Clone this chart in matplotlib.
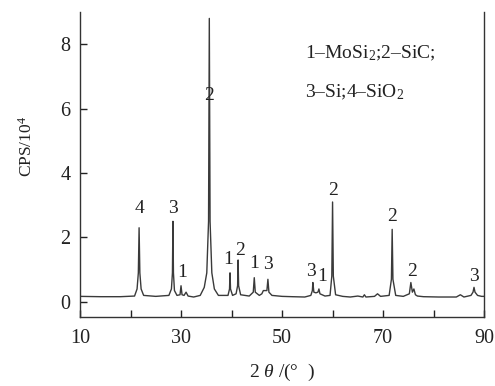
import matplotlib
matplotlib.use("Agg")
import matplotlib.pyplot as plt

# XRD trace (2theta, CPS/10^4)
two_theta = [10, 14, 18, 20.8, 21.3, 21.55, 21.7, 21.85, 22.1, 22.6, 25, 27.6, 28.1, 28.3, 28.4, 28.5, 28.7, 29.2,
             29.8, 30.0, 30.2, 30.6, 31.0, 31.4, 32.5, 33.8, 34.6, 35.1, 35.45, 35.6, 35.75, 36.1, 36.6, 37.4,
             39.3, 39.6, 39.7, 39.8, 40.2, 40.9, 41.2, 41.3, 41.4, 41.8, 43.5, 44.3, 44.5, 44.7, 45.5, 46.0,
             46.3, 47.0, 47.2, 47.4, 48.0, 50, 52, 54.5, 55.7, 56.0, 56.1, 56.3, 56.7, 57.1, 57.3, 57.5, 58.5,
             59.5, 59.85, 60.0, 60.15, 60.6, 62, 63.5, 65, 66.0, 66.3, 66.6, 68.3, 68.9, 69.5, 71.2, 71.65,
             71.8, 71.95, 72.5, 74, 75.2, 75.5, 75.8, 76.1, 76.4, 76.8, 78, 81, 84.5, 85.3, 86, 87.4, 87.8,
             88.0, 88.2, 88.7, 89.5, 90]
cps = [0.17, 0.16, 0.16, 0.18, 0.4, 0.9, 2.3, 0.9, 0.4, 0.2, 0.17, 0.2, 0.4, 0.9, 2.5, 0.9, 0.35, 0.2,
       0.22, 0.5, 0.22, 0.2, 0.3, 0.18, 0.15, 0.2, 0.45, 0.9, 2.5, 8.8, 2.5, 0.9, 0.4, 0.2,
       0.2, 0.4, 0.9, 0.4, 0.2, 0.25, 0.5, 1.3, 0.5, 0.22, 0.18, 0.3, 0.75, 0.3, 0.2, 0.25,
       0.35, 0.35, 0.7, 0.3, 0.2, 0.17, 0.16, 0.15, 0.2, 0.35, 0.6, 0.3, 0.28, 0.3, 0.4, 0.25, 0.18,
       0.2, 0.8, 3.1, 0.8, 0.22, 0.17, 0.15, 0.18, 0.15, 0.22, 0.15, 0.17, 0.25, 0.17, 0.2, 0.7,
       2.25, 0.7, 0.2, 0.17, 0.25, 0.6, 0.3, 0.4, 0.22, 0.18, 0.16, 0.15, 0.15, 0.22, 0.15, 0.2, 0.3,
       0.45, 0.3, 0.2, 0.17, 0.17]

# peak labels (phase number, 2theta, label height)
label_text = ["4", "3", "1", "2", "1", "2", "1", "3", "3", "1", "2", "2", "2", "3"]
label_x = [21.7, 28.4, 30.3, 35.5, 39.4, 41.6, 44.4, 47.3, 55.8, 58.0, 60.0, 71.8, 75.7, 88.0]
label_y = [2.9, 2.9, 0.9, 6.4, 1.3, 1.6, 1.2, 1.15, 0.95, 0.8, 3.45, 2.65, 0.95, 0.8]

legend_lines = ["1–MoSi$_2$;2–SiC;", "3–Si;4–SiO$_2$"]

x_ticks = [10, 20, 30, 40, 50, 60, 70, 80, 90]
x_labels = ["10", "", "30", "", "50", "", "70", "", "90"]
y_ticks = [0, 2, 4, 6, 8]

plt.rcParams['font.family'] = ['Liberation Serif', 'DejaVu Serif']
plt.rcParams['mathtext.fontset'] = 'custom'
plt.rcParams['mathtext.rm'] = 'Liberation Serif'
plt.rcParams['mathtext.it'] = 'Liberation Serif:italic'

fig = plt.figure(figsize=(4.95, 3.86), dpi=100)
ax = fig.add_axes([0.1616, 0.1788, 0.8164, 0.7902])
ax.plot(two_theta, cps, color="#3a3a3a", lw=1.0)

for t, x, y in zip(label_text, label_x, label_y):
    ax.text(x, y, t, ha="center", va="center", fontsize=14, color="#222222")

ax.text(54.6, 7.72, legend_lines[0], fontsize=14, ha="left", va="center", color="#222222")
ax.text(54.6, 6.5, legend_lines[1], fontsize=14, ha="left", va="center", color="#222222")

ax.set_xlim(10, 90)
ax.set_ylim(-0.47, 9.0)
ax.set_xticks(x_ticks)
ax.set_xticklabels(x_labels)
ax.set_yticks(y_ticks)
ax.tick_params(direction="in", length=5, width=1, labelsize=14.5, colors="#222222")
ax.tick_params(axis="x", pad=9)
ax.tick_params(axis="y", pad=7)
ax.spines["top"].set_visible(False)
for s in ["left", "right", "bottom"]:
    ax.spines[s].set_color("#333333")
    ax.spines[s].set_linewidth(1.0)

ax.set_xlabel("2 $\\theta$ /(°  )", fontsize=14, color="#222222", labelpad=10)
ax.set_ylabel("CPS/10$^4$", fontsize=12.5, color="#222222")
ax.yaxis.set_label_coords(-0.11, 0.56)

fig.savefig("out.png", dpi=100)
